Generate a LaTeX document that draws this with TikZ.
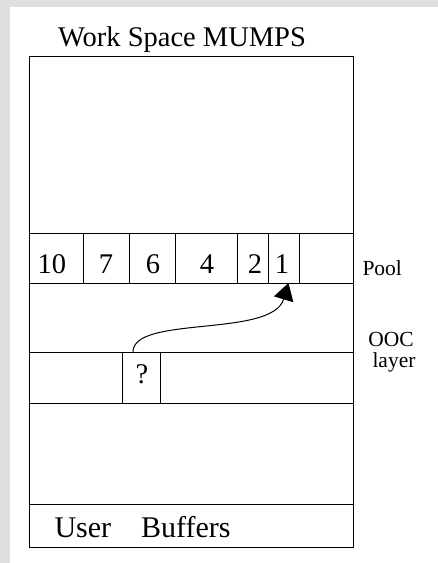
\documentclass[tikz,border=0pt]{standalone}
\usepackage{fontspec}
\setmainfont{Liberation Serif}
\usetikzlibrary{arrows.meta}
\begin{document}
\begin{tikzpicture}[x=1pt,y=-1pt,line width=1pt,
  cell/.style={draw,inner sep=0pt,outer sep=0pt,anchor=north west},
  big/.style={font=\fontsize{28.5}{30}\selectfont,anchor=base,inner sep=0pt},
  side/.style={font=\fontsize{21.5}{21.5}\selectfont,inner sep=0pt,align=center}]
\fill[gray!25] (0,0) rectangle (438,563);
\fill[white] (10,7) rectangle (438,563);
\useasboundingbox (0,0) rectangle (438,563);
% frame
\node[cell,minimum width=324pt,minimum height=491pt] (ws) at (29,56) {};
% pool row
\node[cell,minimum width=54pt,minimum height=50pt] (c10) at (29,233) {};
\node[cell,minimum width=46pt,minimum height=50pt] (c7) at (83,233) {};
\node[cell,minimum width=46pt,minimum height=50pt] (c6) at (129,233) {};
\node[cell,minimum width=62pt,minimum height=50pt] (c4) at (175,233) {};
\node[cell,minimum width=31pt,minimum height=50pt] (c2) at (237,233) {};
\node[cell,minimum width=31pt,minimum height=50pt] (c1) at (268,233) {};
\node[cell,minimum width=54pt,minimum height=50pt] (ce) at (299,233) {};
% ooc row
\node[cell,minimum width=93pt,minimum height=51pt] (o1) at (29,352) {};
\node[cell,minimum width=38pt,minimum height=51pt] (q) at (122,352) {};
\node[cell,minimum width=193pt,minimum height=51pt] (o2) at (160,352) {};
% user buffers
\node[cell,minimum width=324pt,minimum height=43pt] (ub) at (29,504) {};
% texts
\node[big] (title) at (182,46) {Work Space MUMPS};
\node[big] (t10) at (52,273) {10};
\node[big] (t7) at (106,273) {7};
\node[big] (t6) at (153,273) {6};
\node[big] (t4) at (207,273) {4};
\node[big] (t2) at (255,273) {2};
\node[big] (t1) at (282,273) {1};
\node[big] (tq) at (142,383) {?};
\node[big,font=\fontsize{30}{32}\selectfont,anchor=base west] (tub) at (54,537) {User\hspace{30pt}Buffers};
\node[side,anchor=base west] (pool) at (362,275) {Pool};
\node[side,anchor=base] (ooc) at (391,367) {OOC\\[-1pt]\hspace*{6pt}layer};
% arrow
\draw[-{Triangle[length=17pt,width=20pt]}] ([xshift=-8pt]q.north) .. controls (133,315) and (272,338) .. ([xshift=5pt]c1.south);
\end{tikzpicture}
\end{document}
